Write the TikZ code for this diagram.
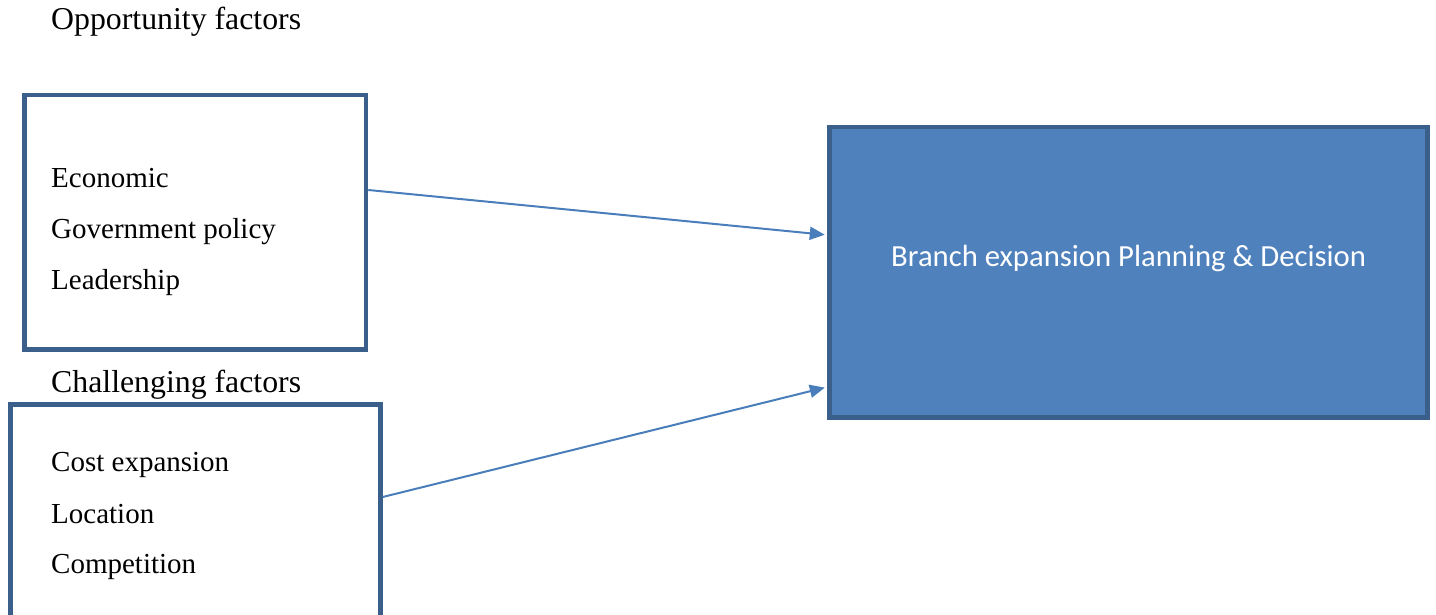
\documentclass[tikz,border=0pt]{standalone}
\usepackage{fontspec}
\setmainfont{Liberation Serif}
\newfontfamily\calib{Carlito}
\usetikzlibrary{arrows.meta}
\definecolor{edgeblue}{HTML}{3A5F8B}
\definecolor{fillblue}{HTML}{4F81BD}
\definecolor{arrowblue}{HTML}{4A7EBB}
\tikzset{
  framebox/.style={draw=edgeblue, line width=4.5pt, rectangle, inner sep=0pt},
  lbl/.style={anchor=base west, inner sep=0pt, font=\fontsize{29}{35}\selectfont},
  head/.style={anchor=base west, inner sep=0pt, font=\fontsize{31.8}{38}\selectfont},
  conn/.style={draw=arrowblue, line width=2pt, -{Triangle[length=15pt,width=13pt]}, shorten >=2.5pt}
}
\begin{document}
\begin{tikzpicture}[x=1pt,y=-1pt]
\useasboundingbox (0,0) rectangle (1436,615);
\clip (0,0) rectangle (1436,615);
\node[framebox, minimum width=341.5pt, minimum height=254.5pt] (box1) at (195.25,222.25) {};
\node[framebox, minimum width=370pt, minimum height=225.5pt] (box2) at (195.5,517.25) {};
\node[framebox, fill=fillblue, minimum width=598pt, minimum height=290.5pt] (big) at (1128.5,272.25) {};

\node[head] (opp) at (51,30) {Opportunity factors};
\node[lbl] (econ) at (51,188) {Economic};
\node[lbl] (gov) at (51,238) {Government policy};
\node[lbl] (lead) at (51,289) {Leadership};
\node[head] (chal) at (51,392) {Challenging factors};
\node[lbl] (cost) at (51,471) {Cost expansion};
\node[lbl] (loc) at (51,523) {Location};
\node[lbl] (comp) at (51,573) {Competition};

\node[anchor=base west, inner sep=0pt, text=white, font=\calib\fontsize{30.7}{37}\selectfont] (bigtext) at (891,266) {Branch expansion Planning \& Decision};

\draw[conn] ([yshift=32.25pt]box1.east) -- ([yshift=37.25pt]big.west);
\draw[conn] ([yshift=20.25pt]box2.east) -- ([yshift=-114.75pt]big.west);
\end{tikzpicture}
\end{document}
